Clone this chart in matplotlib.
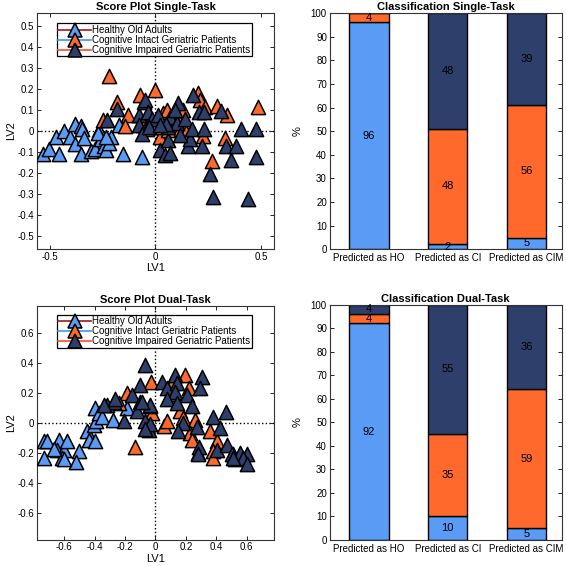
import math
import matplotlib
matplotlib.use('Agg')
import matplotlib.pyplot as plt
from matplotlib.lines import Line2D

plt.rcParams['font.family'] = ['Liberation Sans', 'DejaVu Sans']

# ---------------- data ----------------
group_names = ['Healthy Old Adults',
               'Cognitive Intact Geriatric Patients',
               'Cognitive Impaired Geriatric Patients']

# Single-task scores (LV1, LV2)
st_ho_x = [-0.533, -0.501, -0.454, -0.470, -0.434, -0.404, -0.379, -0.353, -0.345, -0.381,
           -0.340, -0.353, -0.306, -0.287, -0.266, -0.258, -0.243, -0.235, -0.211, -0.218,
           -0.172, -0.152, -0.066, -0.270, -0.232]
st_ho_y = [-0.111, -0.084, -0.111, -0.029, 0.000, -0.029, 0.032, 0.022, 0.011, -0.063,
           -0.031, -0.108, -0.095, -0.084, 0.003, -0.036, -0.073, -0.092, -0.029, -0.055,
           0.027, -0.111, -0.124, -0.010, -0.029]
st_ci_x = [-0.221, -0.182, -0.132, -0.143, -0.249, -0.072, -0.001, -0.060, -0.040, 0.022,
           0.036, 0.054, 0.085, 0.108, 0.116, 0.132, 0.144, 0.202, 0.210, 0.234,
           0.289, 0.339, 0.328, 0.265, 0.226, 0.484, 0.000, 0.060, -0.020]
st_ci_y = [0.260, 0.138, 0.075, 0.022, 0.054, 0.170, 0.194, 0.027, 0.010, -0.029,
           0.084, 0.102, 0.019, 0.059, 0.011, 0.102, -0.005, 0.181, 0.146, 0.114,
           0.118, 0.075, -0.031, -0.140, -0.025, 0.114, 0.020, 0.005, 0.060]
st_cim_x = [-0.182, -0.229, -0.080, -0.053, -0.048, -0.033, -0.017, 0.014, -0.080, -0.064,
            0.022, 0.046, 0.061, 0.069, 0.061, 0.069, 0.108, 0.100, 0.140, 0.155,
            0.163, 0.171, 0.179, 0.207, 0.229, 0.229, 0.218, 0.257, 0.273, 0.312,
            0.332, 0.359, 0.379, 0.406, 0.437, 0.477, 0.477, 0.116, 0.050, -0.030,
            0.020, 0.090]
st_cim_y = [0.106, 0.051, 0.075, 0.138, 0.146, 0.090, 0.059, 0.075, 0.027, -0.013,
            -0.089, -0.116, -0.041, -0.106, 0.019, 0.067, 0.133, 0.038, 0.059, -0.073,
            -0.040, 0.011, 0.170, 0.090, 0.090, 0.011, -0.073, -0.203, -0.311, 0.095,
            -0.073, -0.136, -0.073, 0.011, -0.322, 0.011, -0.124, -0.021, 0.035, 0.020,
            0.030, 0.100]

# Dual-task scores (LV1, LV2)
dt_ho_x = [-0.733, -0.711, -0.635, -0.646, -0.602, -0.580, -0.503, -0.613, -0.733, -0.449,
           -0.438, -0.401, -0.405, -0.394, -0.401, -0.372, -0.350, -0.278, -0.190, -0.521,
           -0.604, -0.670]
dt_ho_y = [-0.124, -0.120, -0.113, -0.179, -0.179, -0.124, -0.186, -0.234, -0.234, -0.057,
           -0.113, -0.119, -0.013, 0.009, 0.097, 0.064, 0.035, 0.020, 0.097, -0.265,
           -0.243, -0.177]
dt_ci_x = [-0.190, -0.240, -0.138, -0.022, -0.030, 0.108, 0.195, 0.223, 0.162, 0.184,
           0.261, 0.053, 0.075, 0.228, 0.239, 0.359, 0.403, 0.381, 0.377, 0.283,
           0.524, 0.512, 0.118]
dt_ci_y = [0.196, 0.130, -0.164, 0.064, 0.273, 0.262, 0.318, 0.229, 0.075, 0.031,
           0.020, -0.024, 0.009, -0.069, -0.113, -0.058, -0.124, -0.190, -0.234, -0.201,
           -0.245, -0.208, 0.188]
dt_cim_x = [-0.066, -0.099, -0.153, -0.317, -0.273, -0.099, -0.033, -0.204, -0.120, -0.066,
            -0.043, 0.129, 0.305, 0.294, 0.042, 0.075, 0.140, 0.129, 0.206, 0.075,
            0.140, 0.239, -0.035, -0.089, 0.381, 0.464, 0.425, 0.272, 0.184, 0.145,
            -0.035, -0.068, 0.289, 0.283, 0.403, 0.469, 0.502, 0.556, 0.600, 0.578,
            0.600, 0.513, -0.341, -0.265]
dt_cim_y = [0.384, 0.252, 0.185, 0.119, 0.141, 0.141, 0.108, 0.009, 0.075, 0.009,
            -0.046, 0.318, 0.307, 0.234, 0.273, 0.229, 0.262, 0.207, 0.185, 0.159,
            0.130, 0.108, 0.119, 0.141, 0.035, 0.070, -0.036, -0.031, -0.003, -0.053,
            -0.009, -0.040, -0.164, -0.212, -0.179, -0.146, -0.212, -0.201, -0.212, -0.234,
            -0.278, -0.234, 0.121, 0.155]

# Classification (% of each predicted class)
bar_categories = ['Predicted as HO', 'Predicted as CI', 'Predicted as CIM']
single_ho = [96, 2.3, 5]
single_ci = [4, 48.8, 56]
single_cim = [0, 48.9, 39]
dual_ho = [92, 10, 5]
dual_ci = [4, 35, 59]
dual_cim = [4, 55, 36]

# ---------------- style ----------------
C_HO = '#5A9BF5'
C_CI = '#FF6A2C'
C_CIM = '#2F3F6B'
LEG_LINE = ['#A31818', '#3399FF', '#FF4A26']
FS = 7

fig = plt.figure(figsize=(5.66, 5.66), dpi=100)


def style_axes(ax):
    for s in ax.spines.values():
        s.set_color('#333333')
        s.set_linewidth(0.8)
    ax.tick_params(direction='in', top=True, right=True, length=3,
                   width=0.6, labelsize=FS, pad=2)


def score_plot(rect, title, hx, hy, cx, cy, mx, my, lim, xticks, yticks, leg_top):
    ax = fig.add_axes(rect)
    ax.axhline(0, color='k', ls=':', lw=1, zorder=1)
    ax.axvline(0, color='k', ls=':', lw=1, zorder=1)
    kw = dict(marker='^', s=105, edgecolors='k', linewidths=1.1, zorder=3)
    ax.scatter(hx, hy, c=C_HO, **kw)
    ax.scatter(cx, cy, c=C_CI, **kw)
    ax.scatter(mx, my, c=C_CIM, **kw)
    ax.set_xlim(-lim[0], lim[0])
    ax.set_ylim(-lim[1], lim[1])
    ax.set_xticks(xticks)
    ax.set_yticks(yticks)
    ax.set_xticklabels([('%g' % t) for t in xticks])
    ax.set_yticklabels([('%g' % t) for t in yticks])
    ax.set_xlabel('LV1', fontsize=FS + 1, labelpad=1)
    ax.set_ylabel('LV2', fontsize=FS + 1, labelpad=1)
    ax.set_title(title, fontsize=FS + 1, fontweight='bold', pad=2)
    style_axes(ax)
    handles = [Line2D([], [], color=LEG_LINE[i], lw=1.2, marker='^', markersize=10,
                      markerfacecolor=fc, markeredgecolor='k', markeredgewidth=1.1)
               for i, fc in enumerate([C_HO, C_CI, C_CIM])]
    leg = ax.legend(handles, group_names, loc='upper left', bbox_to_anchor=(0.083, leg_top),
                    borderaxespad=0, fontsize=FS, handlelength=3.4, handleheight=0.6,
                    labelspacing=0.0, handletextpad=0.1, borderpad=0.15, fancybox=False,
                    framealpha=1, edgecolor='k')
    leg.get_frame().set_linewidth(0.9)
    leg.set_zorder(5)
    return ax


def bar_plot(rect, title, ho, ci, cim):
    ax = fig.add_axes(rect)
    x = list(range(1, len(bar_categories) + 1))
    kw = dict(width=0.5, edgecolor='k', linewidth=1.0, zorder=2)
    ax.bar(x, ho, color=C_HO, **kw)
    ax.bar(x, ci, bottom=ho, color=C_CI, **kw)
    b2 = [a + b for a, b in zip(ho, ci)]
    ax.bar(x, cim, bottom=b2, color=C_CIM, **kw)
    for i in range(len(x)):
        segs = [(ho[i], 0), (ci[i], ho[i]), (cim[i], b2[i])]
        for v, b in segs:
            if v > 0:
                ax.text(x[i], b + v / 2.0, str(int(math.floor(v))), ha='center',
                        va='center', fontsize=FS + 1, color='k', zorder=4)
    ax.set_xlim(0.5, 3.45)
    ax.set_ylim(0, 100)
    ax.set_yticks(range(0, 101, 10))
    ax.set_xticks(x)
    ax.set_xticklabels(bar_categories)
    ax.set_ylabel('%', fontsize=FS + 1, labelpad=6)
    ax.set_title(title, fontsize=FS + 1, fontweight='bold', pad=2)
    style_axes(ax)
    ax.tick_params(axis='x', length=0, pad=3)
    return ax


score_plot([0.0654, 0.560, 0.4186, 0.417], 'Score Plot Single-Task',
           st_ho_x, st_ho_y, st_ci_x, st_ci_y, st_cim_x, st_cim_y,
           (0.56, 0.56), [-0.5, 0, 0.5],
           [-0.5, -0.4, -0.3, -0.2, -0.1, 0, 0.1, 0.2, 0.3, 0.4, 0.5], 0.956)
bar_plot([0.5825, 0.5595, 0.41, 0.4175], 'Classification Single-Task',
         single_ho, single_ci, single_cim)
score_plot([0.0654, 0.0465, 0.4186, 0.4135], 'Score Plot Dual-Task',
           dt_ho_x, dt_ho_y, dt_ci_x, dt_ci_y, dt_cim_x, dt_cim_y,
           (0.78, 0.78), [-0.6, -0.4, -0.2, 0, 0.2, 0.4, 0.6],
           [-0.6, -0.4, -0.2, 0, 0.2, 0.4, 0.6], 0.9615)
bar_plot([0.5825, 0.0465, 0.41, 0.4152], 'Classification Dual-Task',
         dual_ho, dual_ci, dual_cim)

fig.savefig('out.png', dpi=100)
